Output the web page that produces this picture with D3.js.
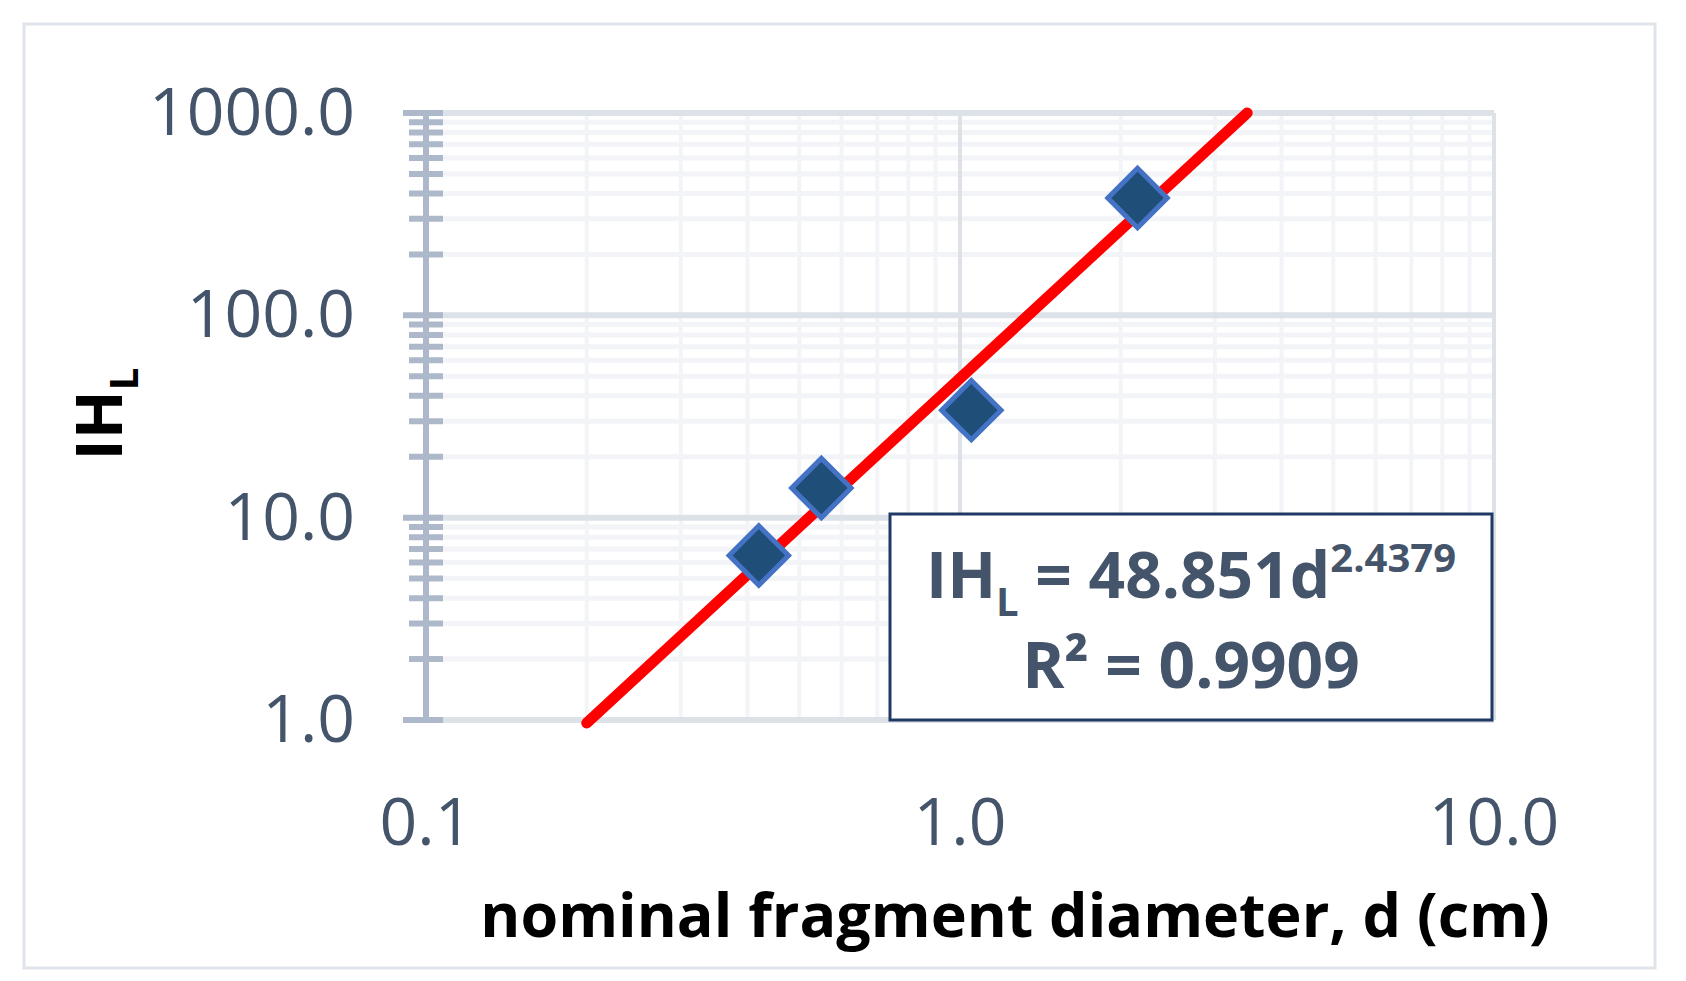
<!DOCTYPE html>
<html><head><meta charset="utf-8">
<script src="https://cdn.jsdelivr.net/npm/d3@7"></script>
<style>body{margin:0;background:#fff}text{font-family:"Liberation Sans Narrow","Open Sans",sans-serif}</style>
</head><body><svg id="c" width="1686" height="981"></svg>
<script>
var diam = [0.42, 0.55, 1.05, 2.15];
var ihl = [6.5, 14, 34, 380];
var fitA = 48.851, fitB = 2.4379;
var fitRange = [0.2, 3.45];
var xTicks = [0.1, 1, 10];
var yTicks = [1, 10, 100, 1000];

var svg = d3.select('#c');
var L = 426, R = 1494, T = 113, B = 720;
var x = d3.scaleLog().domain([0.1, 10]).range([L, R]);
var y = d3.scaleLog().domain([1, 1000]).range([B, T]);

svg.append('rect').attr('x', 24).attr('y', 24).attr('width', 1631).attr('height', 944)
	.attr('fill', '#fff').attr('stroke', '#dfe3ea').attr('stroke-width', 3);

var minorX = [], minorY = [];
[0.1, 1].forEach(function(d) { for (var k = 2; k <= 9; k++) minorX.push(d * k); });
[1, 10, 100].forEach(function(d) { for (var k = 2; k <= 9; k++) minorY.push(d * k); });

var g = svg.append('g');
g.selectAll('.mx').data(minorX).enter().append('line')
	.attr('x1', x).attr('x2', x).attr('y1', T).attr('y2', B)
	.attr('stroke', '#f3f4f7').attr('stroke-width', 4);
g.selectAll('.my').data(minorY).enter().append('line')
	.attr('x1', L).attr('x2', R).attr('y1', y).attr('y2', y)
	.attr('stroke', '#f3f4f7').attr('stroke-width', 5);
g.selectAll('.Mx').data(xTicks).enter().append('line')
	.attr('x1', x).attr('x2', x).attr('y1', T).attr('y2', B)
	.attr('stroke', '#dde1e8').attr('stroke-width', 4);
g.selectAll('.My').data(yTicks).enter().append('line')
	.attr('x1', L).attr('x2', R).attr('y1', y).attr('y2', y)
	.attr('stroke', '#dde1e8').attr('stroke-width', 6);

// y axis with crossing ticks
g.append('line').attr('x1', L).attr('x2', L).attr('y1', T).attr('y2', B)
	.attr('stroke', '#adb9ca').attr('stroke-width', 6);
g.selectAll('.ty').data(minorY).enter().append('line')
	.attr('x1', L - 17).attr('x2', L + 17).attr('y1', y).attr('y2', y)
	.attr('stroke', '#adb9ca').attr('stroke-width', 6);
g.selectAll('.tY').data(yTicks).enter().append('line')
	.attr('x1', L - 23).attr('x2', L + 17).attr('y1', y).attr('y2', y)
	.attr('stroke', '#adb9ca').attr('stroke-width', 6);

svg.selectAll('.yl').data(yTicks).enter().append('text')
	.attr('x', 355).attr('y', function(d) { return y(d) + 22; })
	.attr('text-anchor', 'end').attr('font-size', 66).attr('fill', '#44546a')
	.text(function(d) { return d.toFixed(1); });
svg.selectAll('.xl').data(xTicks).enter().append('text')
	.attr('x', x).attr('y', 845)
	.attr('text-anchor', 'middle').attr('font-size', 66).attr('fill', '#44546a')
	.text(function(d) { return d.toFixed(1); });

// trendline
var fit = fitRange.map(function(d) { return [d, fitA * Math.pow(d, fitB)]; });
svg.append('path').datum(fit)
	.attr('d', d3.line().x(function(d) { return x(d[0]); }).y(function(d) { return y(d[1]); }))
	.attr('stroke', '#ff0000').attr('stroke-width', 11).attr('stroke-linecap', 'round').attr('fill', 'none');

svg.selectAll('.pt').data(diam).enter().append('path')
	.attr('transform', function(d, i) { return 'translate(' + x(d) + ',' + y(ihl[i]) + ') rotate(45)'; })
	.attr('d', 'M-21,-21H21V21H-21Z')
	.attr('fill', '#1f4e79').attr('stroke', '#4472c4').attr('stroke-width', 5);

// equation box
svg.append('rect').attr('x', 890).attr('y', 514).attr('width', 602).attr('height', 206)
	.attr('fill', '#fff').attr('stroke', '#203864').attr('stroke-width', 3);
var eq = svg.append('text').attr('x', 1191).attr('y', 598).attr('text-anchor', 'middle')
	.attr('font-size', 64).attr('font-weight', 'bold').attr('fill', '#44546a');
eq.append('tspan').text('IH');
eq.append('tspan').attr('font-size', 40).attr('dy', 18).text('L');
eq.append('tspan').attr('dy', -18).text(' = 48.851d');
eq.append('tspan').attr('font-size', 40).attr('dy', -26).text('2.4379');
svg.append('text').attr('x', 1191).attr('y', 688).attr('text-anchor', 'middle')
	.attr('font-size', 64).attr('font-weight', 'bold').attr('fill', '#44546a')
	.text('R² = 0.9909');

svg.append('text').attr('x', 1015).attr('y', 937).attr('text-anchor', 'middle')
	.attr('font-size', 61).attr('font-weight', 'bold').attr('fill', '#000')
	.text('nominal fragment diameter, d (cm)');
var yl = svg.append('text').attr('transform', 'translate(122,414) rotate(-90)')
	.attr('text-anchor', 'middle').attr('font-size', 64).attr('font-weight', 'bold').attr('fill', '#000');
yl.append('tspan').text('IH');
yl.append('tspan').attr('font-size', 40).attr('dy', 16).text('L');
</script></body></html>
